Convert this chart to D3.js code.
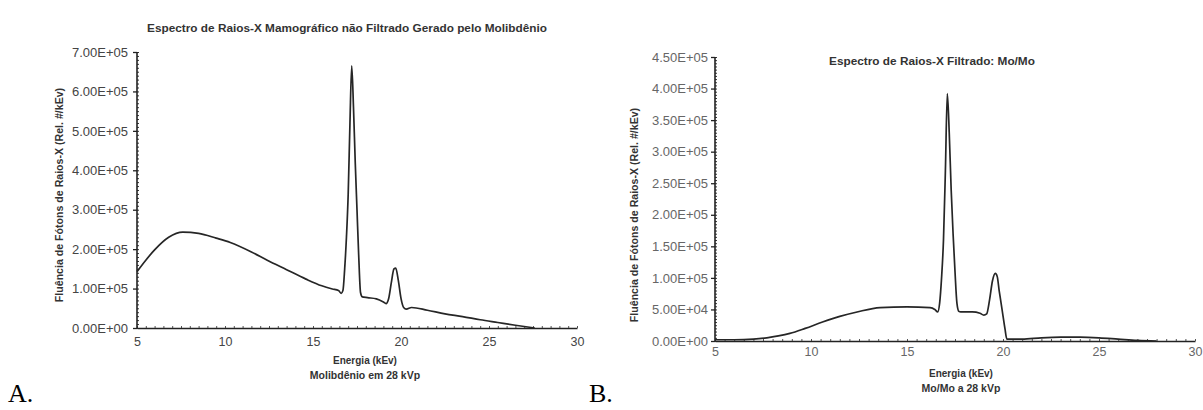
<!DOCTYPE html>
<html>
<head>
<meta charset="utf-8">
<script src="https://cdn.jsdelivr.net/npm/d3@7"></script>
<style>
  html, body { margin: 0; padding: 0; background: #fff; }
  svg { display: block; }
  .tick text { font-family: "Liberation Sans", Arial, sans-serif; }
</style>
</head>
<body>
<svg id="fig" width="1203" height="410"></svg>
<script>
// Unfiltered Mo spectrum at 28 kVp (fluence per keV)
const energyA = [5, 5.5, 6, 6.8, 7.6, 8.5, 9.5, 10.3, 11.5, 12.4, 13.5, 14.6, 15.5, 16.1, 16.45, 16.6,
  16.7, 16.8, 16.9, 17.0, 17.1, 17.2, 17.3, 17.4, 17.5, 17.6, 17.7, 17.8,
  18.1, 18.6, 19.0, 19.15, 19.3, 19.45, 19.6, 19.7, 19.85, 20.0, 20.15, 20.3, 20.6,
  21.5, 22.5, 23.5, 24.5, 25.5, 26.5, 27.6];
const fluenceA = [1.43e5, 1.72e5, 1.98e5, 2.30e5, 2.43e5, 2.40e5, 2.28e5, 2.17e5, 1.93e5, 1.72e5, 1.48e5, 1.24e5, 1.07e5, 0.99e5, 0.95e5, 0.88e5,
  0.95e5, 1.5e5, 2.3e5, 3.4e5, 5.2e5, 6.65e5, 5.6e5, 4.2e5, 3.0e5, 1.8e5, 0.9e5, 0.79e5,
  0.77e5, 0.74e5, 0.66e5, 0.62e5, 0.75e5, 1.15e5, 1.5e5, 1.52e5, 1.2e5, 0.75e5, 0.52e5, 0.48e5, 0.52e5,
  0.45e5, 0.36e5, 0.29e5, 0.21e5, 0.14e5, 0.07e5, 0];

// Mo/Mo filtered spectrum at 28 kVp
const energyB = [5, 6, 7, 7.7, 8.3, 8.9, 9.7, 10.6, 11.5, 12.4, 13.6, 15.0, 16.2, 16.45, 16.6,
  16.7, 16.8, 16.9, 17.0, 17.1, 17.2, 17.3, 17.4, 17.5, 17.6, 17.7, 17.8,
  18.4, 18.8, 19.0, 19.15, 19.3, 19.45, 19.6, 19.7, 19.8, 19.9, 20.0, 20.1, 20.2,
  21, 22, 23, 24, 25, 26, 27, 28];
const fluenceB = [0.2e4, 0.2e4, 0.3e4, 0.5e4, 0.8e4, 1.2e4, 2.0e4, 3.0e4, 3.9e4, 4.6e4, 5.3e4, 5.4e4, 5.3e4, 5.0e4, 4.6e4,
  6e4, 10e4, 16e4, 27e4, 39.2e4, 33e4, 24e4, 17e4, 11e4, 6e4, 4.7e4, 4.6e4,
  4.6e4, 4.4e4, 4.1e4, 4.3e4, 6.5e4, 9.5e4, 10.7e4, 10.2e4, 8.0e4, 6.0e4, 4.0e4, 2.0e4, 0.3e4,
  0.3e4, 0.5e4, 0.6e4, 0.6e4, 0.5e4, 0.3e4, 0.1e4, 0];

const energyTicks = [5, 10, 15, 20, 25, 30];
const fluenceTicksA = [0, 1e5, 2e5, 3e5, 4e5, 5e5, 6e5, 7e5];
const fluenceTicksB = [0, 5e4, 1e5, 1.5e5, 2e5, 2.5e5, 3e5, 3.5e5, 4e5, 4.5e5];

const titleA = "Espectro de Raios-X Mamográfico não Filtrado Gerado pelo Molibdênio";
const titleB = "Espectro de Raios-X Filtrado: Mo/Mo";
const xLabel = "Energia (kEv)";
const subLabelA = "Molibdênio em 28 kVp";
const subLabelB = "Mo/Mo a 28 kVp";
const yLabel = "Fluência de Fótons de Raios-X (Rel. #/kEv)";

// Scientific notation like 7.00E+05
function sci(v) {
  const [m, e] = v.toExponential(2).split("e");
  const sign = e[0] === "-" ? "-" : "+";
  const digits = e.replace(/[+-]/, "").padStart(2, "0");
  return m + "E" + sign + digits;
}

const svg = d3.select("#fig");
const sans = "'Liberation Sans', Arial, sans-serif";

function panel(cfg) {
  const g = svg.append("g");
  const x = d3.scaleLinear().domain([5, 30]).range(cfg.xr);
  const y = d3.scaleLinear().domain(cfg.yd).range(cfg.yr);

  // minor ticks on y axis
  const minorY = d3.range(cfg.yd[0], cfg.yd[1] + 1, cfg.minorStep);
  g.append("g").attr("transform", `translate(${cfg.xr[0]},0)`)
    .call(d3.axisLeft(y).tickValues(minorY).tickSize(2).tickFormat(""))
    .call(s => s.select(".domain").remove())
    .selectAll("line").attr("stroke", "#333").attr("stroke-width", 1).attr("x2", 2);

  // minor ticks on x axis
  g.append("g").attr("transform", `translate(0,${cfg.yr[0]})`)
    .call(d3.axisTop(x).tickValues(d3.range(5, 30.01, 0.5)).tickSize(2).tickFormat(""))
    .call(s => s.select(".domain").remove())
    .selectAll("line").attr("stroke", "#555").attr("stroke-width", 1);

  // major y axis
  const ay = g.append("g").attr("transform", `translate(${cfg.xr[0]},0)`)
    .call(d3.axisLeft(y).tickValues(cfg.yTicks).tickSize(4).tickPadding(cfg.yPad).tickFormat(sci));
  ay.select(".domain").attr("stroke", "#222").attr("stroke-width", 1.6).attr("d", `M0,${cfg.yr[0]}V${cfg.yr[1]}`);
  ay.selectAll("line").attr("stroke", "#222").attr("stroke-width", 1.3);
  ay.selectAll("text").attr("font-size", 13).attr("fill", cfg.tickColor).attr("font-family", sans);

  // major x axis
  const ax = g.append("g").attr("transform", `translate(0,${cfg.yr[0]})`)
    .call(d3.axisBottom(x).tickValues(energyTicks).tickSize(0).tickPadding(cfg.xPad));
  ax.select(".domain").attr("stroke", "#222").attr("stroke-width", 1.6);
  ax.selectAll("text").attr("font-size", 12.5).attr("fill", cfg.tickColor).attr("font-family", sans);

  // spectrum curve
  const line = d3.line().x((d, i) => x(cfg.e[i])).y(d => y(d)).curve(d3.curveMonotoneX);
  g.append("path").datum(cfg.v).attr("d", line)
    .attr("fill", "none").attr("stroke", "#262626").attr("stroke-width", 1.7).attr("stroke-linejoin", "round");

  // title
  g.append("text").attr("x", cfg.titlePos[0]).attr("y", cfg.titlePos[1])
    .attr("text-anchor", "middle").attr("font-family", sans).attr("font-weight", "bold")
    .attr("font-size", 11.8).attr("fill", "#333").text(cfg.title);

  // x labels
  g.append("text").attr("x", cfg.xlPos[0]).attr("y", cfg.xlPos[1])
    .attr("text-anchor", "middle").attr("font-family", sans).attr("font-weight", "bold")
    .attr("font-size", 10).attr("fill", "#333").text(xLabel);
  g.append("text").attr("x", cfg.xlPos[0]).attr("y", cfg.xlPos[1] + 15)
    .attr("text-anchor", "middle").attr("font-family", sans).attr("font-weight", "bold")
    .attr("font-size", 10.5).attr("fill", "#333").text(cfg.sub);

  // y label
  g.append("text").attr("transform", `translate(${cfg.ylPos[0]},${cfg.ylPos[1]}) rotate(-90)`)
    .attr("text-anchor", "middle").attr("font-family", sans).attr("font-weight", "bold")
    .attr("font-size", 10.6).attr("fill", "#333").text(yLabel);

  // panel letter
  svg.append("text").attr("x", cfg.letterPos[0]).attr("y", cfg.letterPos[1])
    .attr("font-family", "'Liberation Serif', 'Times New Roman', serif")
    .attr("font-size", 26).attr("fill", "#000").text(cfg.letter);
}

panel({
  e: energyA, v: fluenceA, yd: [0, 7e5], yTicks: fluenceTicksA, minorStep: 1e4,
  xr: [137, 577], yr: [328, 52], yPad: 5, xPad: 9, tickColor: "#444",
  title: titleA, titlePos: [347, 32], xlPos: [365, 364], sub: subLabelA,
  ylPos: [63, 195], letter: "A.", letterPos: [8, 402]
});

panel({
  e: energyB, v: fluenceB, yd: [0, 4.5e5], yTicks: fluenceTicksB, minorStep: 5e3,
  xr: [715, 1195], yr: [341, 57], yPad: 3, xPad: 6, tickColor: "#666",
  title: titleB, titlePos: [932, 65], xlPos: [961, 377], sub: subLabelB,
  ylPos: [638, 215], letter: "B.", letterPos: [589, 402]
});
</script>
</body>
</html>
